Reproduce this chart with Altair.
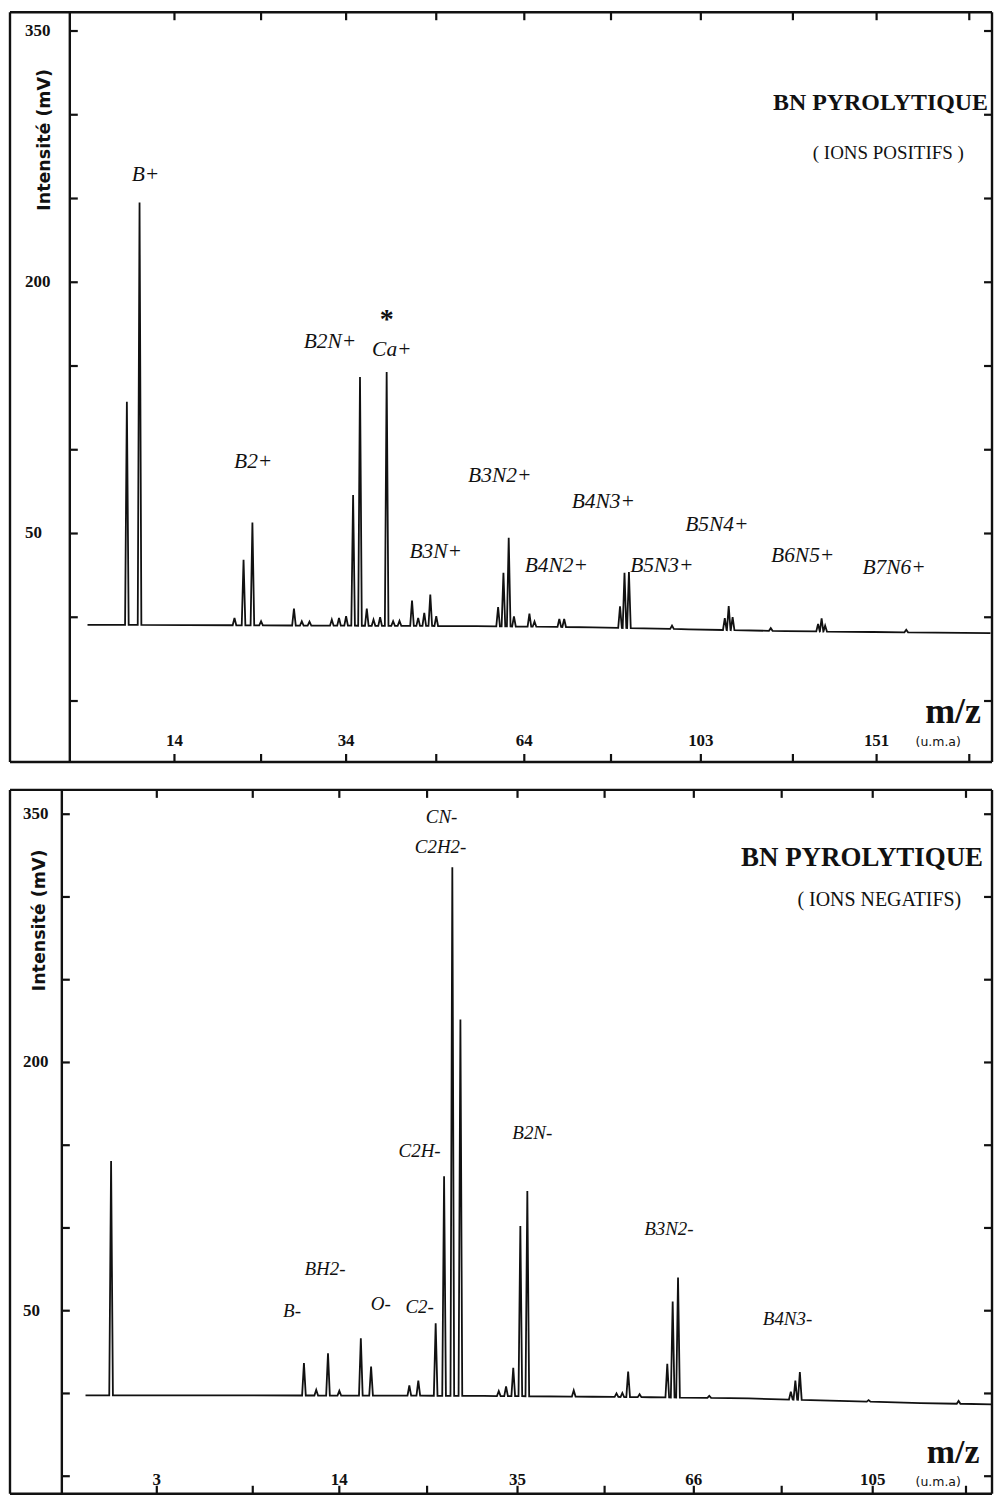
import altair as alt
import numpy as np
import pandas as pd

# ---------------- POSITIVE IONS (top panel) ----------------
pos_peak_mz = [10, 11, 20, 21, 22, 23, 27, 28, 29, 32, 33, 34, 35, 36, 37, 38, 39, 40,
               41, 42, 44, 45, 46, 47, 48, 59, 60, 61, 62, 65, 66, 71, 72, 84, 85, 86,
               96, 109, 110, 111, 121, 134, 135, 136, 160]
pos_peak_val = [128.6, 247.6, -0.4, 34.3, 56.5, -2.4, 5.2, -2.4, -2.6, -1.4, -0.4, 0.6, 73, 143.5,
                5.2, -1.4, 0.0, 146.4, -2.4, -2.2, 10, -0.4, 2.6, 13.5, 0.6, 6.0, 26.5, 47.5,
                0.5, 2.2, -2.5, -1.0, -1.0, 6.5, 26.5, 27.0, -5.0, -0.5, 6.7, 0.1, -6.5,
                -4.0, -0.6, -5.0, -7.5]
pos_base_mz = [7.2, 30.5, 55, 78, 100, 125, 150, 187]
pos_base_val = [-4.5, -5.0, -5.3, -6.0, -7.2, -8.3, -8.8, -9.5]

pos_labels = ["B+", "B2+", "B2N+", "Ca+", "B3N2+", "B3N+", "B4N3+", "B4N2+", "B5N4+", "B5N3+", "B6N5+", "B7N6+"]
pos_label_mz = [11.49, 22.09, 31.75, 40.8, 59.3, 47.9, 80.3, 70.4, 107.0, 93.6, 129.7, 156.3]
pos_label_val = [264.3, 92.9, 164.3, 159.5, 84.5, 38.7, 69.0, 30.4, 54.8, 30.4, 36.3, 29.2]
pos_star_mz = [40.0]
pos_star_val = [177.4]

pos_xticks = [14, 23, 34, 48, 64, 82, 103, 127, 151, 180]
pos_xlabel_mz = [14, 34, 64, 103, 151]
pos_xlabel_txt = ["14", "34", "64", "103", "151"]

# ---------------- NEGATIVE IONS (bottom panel) ----------------
neg_peak_mz = [1, 11, 12, 13, 14, 16, 17, 21, 22, 24, 25, 26, 27, 32, 33, 34, 35, 36,
               43, 50, 51, 52, 54, 59, 60, 61, 67, 84, 85, 86, 102, 125]
neg_peak_val = [140.4, 18.3, 2.2, 24.3, 1.6, 33.3, 16.3, 4.8, 7.8, 42.4, 131.3, 318, 226,
                1.4, 4.2, 15.5, 101.2, 122.3, 1.8, 0.0, 0.3, 13.3, -0.5, 17.9, 55.6, 70.0,
                -1.5, 1.0, 7.8, 12.9, -4.0, -4.5]
neg_base_mz = [0.48, 6, 19.5, 30, 46, 56, 75, 95, 115, 134.0]
neg_base_val = [-1.2, -1.2, -1.3, -1.5, -2.0, -2.3, -3.0, -4.5, -5.8, -6.6]

neg_labels = ["CN-", "C2H2-", "C2H-", "B2N-", "B3N2-", "BH2-", "B-", "O-", "C2-", "B4N3-"]
neg_label_mz = [24.7, 24.58, 22.15, 36.72, 59.3, 12.74, 10.07, 17.97, 22.15, 83.28]
neg_label_val = [348.2, 330.1, 146.4, 157.2, 99.4, 75.3, 50.0, 54.2, 52.4, 45.2]

neg_xticks = [2.4, 7.3, 14, 23, 34.6, 48, 64, 82, 103, 127]
neg_xlabel_mz = [2.4, 14, 34.6, 64, 103]
neg_xlabel_txt = ["3", "14", "35", "66", "105"]

y_ticks = [-50, 0, 50, 100, 150, 200, 250, 300, 350]
y_label_val = [350, 200, 50]
y_label_txt = ["350", "200", "50"]

SERIF = "Liberation Serif"
INK = "#111111"
W = 925
STRIP = 60


def spectrum_table(peak_mz, peak_val, base_mz, base_val, half=0.022):
    rows = list(zip(base_mz, base_val))
    for m, v in zip(peak_mz, peak_val):
        b = float(np.interp(m, base_mz, base_val))
        s = np.sqrt(m)
        rows += [((s - half) ** 2, b), (m, v), ((s + half) ** 2, b)]
    return pd.DataFrame(rows, columns=["mz", "val"]).sort_values("mz")


def panel(H, axis_x, xdom, ydom, peaks, base, labels, label_size, star, xticks, xlabels,
          ylab_x, ytitle_xy, title_txt, title_xy, title_size, sub_txt, sub_size, sub_xy,
          mz_xy, mz_size, uma_xy, xlab_dy):
    xs = alt.Scale(type="sqrt", domain=xdom, range=[axis_x, W], nice=False, zero=False)
    ys = alt.Scale(domain=ydom, nice=False, zero=False)
    X = alt.X("mz:Q", scale=xs, axis=None)
    Y = alt.Y("val:Q", scale=ys, axis=None)
    one = pd.DataFrame({"k": [0]})

    spec = spectrum_table(peaks[0], peaks[1], base[0], base[1])
    line = alt.Chart(spec).mark_line(color=INK, strokeWidth=1.8, strokeJoin="miter").encode(x=X, y=Y)

    xt = pd.DataFrame({"mz": xticks})
    yt = pd.DataFrame({"val": y_ticks})
    tk = dict(color=INK, strokeWidth=2.2)
    top_t = alt.Chart(xt).mark_rule(**tk).encode(x=X, y=alt.value(0), y2=alt.value(8))
    bot_t = alt.Chart(xt).mark_rule(**tk).encode(x=X, y=alt.value(H - 8), y2=alt.value(H))
    left_t = alt.Chart(yt).mark_rule(**tk).encode(y=Y, x=alt.value(axis_x), x2=alt.value(axis_x + 8))
    right_t = alt.Chart(yt).mark_rule(**tk).encode(y=Y, x=alt.value(W - 8), x2=alt.value(W))

    fr = dict(color=INK, strokeWidth=2.4)
    f_outer = alt.Chart(one).mark_rule(**fr).encode(x=alt.value(-STRIP), y=alt.value(0), y2=alt.value(H))
    f_axis = alt.Chart(one).mark_rule(**fr).encode(x=alt.value(axis_x), y=alt.value(0), y2=alt.value(H))
    f_right = alt.Chart(one).mark_rule(**fr).encode(x=alt.value(W), y=alt.value(0), y2=alt.value(H))
    f_top = alt.Chart(one).mark_rule(**fr).encode(x=alt.value(-STRIP), x2=alt.value(W), y=alt.value(0))
    f_bot = alt.Chart(one).mark_rule(**fr).encode(x=alt.value(-STRIP), x2=alt.value(W), y=alt.value(H))

    ylab = alt.Chart(pd.DataFrame({"val": y_label_val, "t": y_label_txt})).mark_text(
        font=SERIF, fontSize=17, fontWeight="bold", align="left", baseline="middle", color=INK
    ).encode(y=Y, x=alt.value(ylab_x), text="t:N")
    ytitle = alt.Chart(one).mark_text(
        font="DejaVu Sans", fontSize=17.5, fontWeight="bold", angle=270, align="center",
        baseline="middle", color=INK, text="Intensité (mV)"
    ).encode(x=alt.value(ytitle_xy[0]), y=alt.value(ytitle_xy[1]))

    xlab = alt.Chart(pd.DataFrame({"mz": xlabels[0], "t": xlabels[1]})).mark_text(
        font=SERIF, fontSize=17, fontWeight="bold", align="center", baseline="middle", color=INK
    ).encode(x=X, y=alt.value(H - xlab_dy), text="t:N")

    lab = alt.Chart(pd.DataFrame({"mz": labels[0], "val": labels[1], "t": labels[2]})).mark_text(
        font=SERIF, fontSize=label_size, fontStyle="italic", align="center", baseline="middle", color=INK
    ).encode(x=X, y=Y, text="t:N")

    title = alt.Chart(one).mark_text(
        font=SERIF, fontSize=title_size, fontWeight="bold", align="right", baseline="middle", color=INK,
        text=title_txt
    ).encode(x=alt.value(title_xy[0]), y=alt.value(title_xy[1]))
    sub = alt.Chart(one).mark_text(
        font=SERIF, fontSize=sub_size, align="center", baseline="middle", color=INK, text=sub_txt
    ).encode(x=alt.value(sub_xy[0]), y=alt.value(sub_xy[1]))
    mz = alt.Chart(one).mark_text(
        font=SERIF, fontSize=mz_size, fontWeight="bold", align="center", baseline="middle", color=INK,
        text="m/z"
    ).encode(x=alt.value(mz_xy[0]), y=alt.value(mz_xy[1]))
    uma = alt.Chart(one).mark_text(
        font="DejaVu Sans", fontSize=12.5, align="center", baseline="middle", color=INK, text="(u.m.a)"
    ).encode(x=alt.value(uma_xy[0]), y=alt.value(uma_xy[1]))

    layers = [line, top_t, bot_t, left_t, right_t, f_outer, f_axis, f_right, f_top, f_bot,
              ylab, ytitle, xlab, lab, title, sub, mz, uma]
    if star is not None:
        st = alt.Chart(pd.DataFrame({"mz": star[0], "val": star[1]})).mark_text(
            font=SERIF, fontSize=28, fontWeight="bold", align="center", baseline="middle", color=INK,
            text="*"
        ).encode(x=X, y=Y)
        layers.append(st)
    return alt.layer(*layers).properties(width=W, height=H)


# page origin of the plot area: x = 8 + 1.2 + 60 = 69.2 ; top y = 9.2
top = panel(
    H=752, axis_x=0, xdom=[6.09, 187.5], ydom=[-86.4, 361.2],
    peaks=(pos_peak_mz, pos_peak_val), base=(pos_base_mz, pos_base_val),
    labels=(pos_label_mz, pos_label_val, pos_labels), label_size=21.5,
    star=(pos_star_mz, pos_star_val),
    xticks=pos_xticks, xlabels=(pos_xlabel_mz, pos_xlabel_txt),
    ylab_x=-45, ytitle_xy=(-25, 128),
    title_txt="BN PYROLYTIQUE", title_xy=(921, 91), title_size=24,
    sub_txt="( IONS POSITIFS )", sub_size=19, sub_xy=(821, 141),
    mz_xy=(886, 702), mz_size=36, uma_xy=(871, 732), xlab_dy=21,
)

bottom = panel(
    H=706, axis_x=-8, xdom=[0.1668, 134.14], ydom=[-60.6, 364.7],
    peaks=(neg_peak_mz, neg_peak_val), base=(neg_base_mz, neg_base_val),
    labels=(neg_label_mz, neg_label_val, neg_labels), label_size=19,
    star=None,
    xticks=neg_xticks, xlabels=(neg_xlabel_mz, neg_xlabel_txt),
    ylab_x=-47, ytitle_xy=(-30, 131),
    title_txt="BN  PYROLYTIQUE", title_xy=(916, 68), title_size=27,
    sub_txt="( IONS  NEGATIFS)", sub_size=20, sub_xy=(812, 110),
    mz_xy=(886, 665), mz_size=34, uma_xy=(871, 694), xlab_dy=14,
)

chart = alt.vconcat(top, bottom, spacing=24).properties(
    padding={"left": 0, "top": 0, "right": 0, "bottom": 0}
).configure(background="white").configure_view(strokeWidth=0)

chart.save("out.html", embed_options={"renderer": "svg", "actions": False})
